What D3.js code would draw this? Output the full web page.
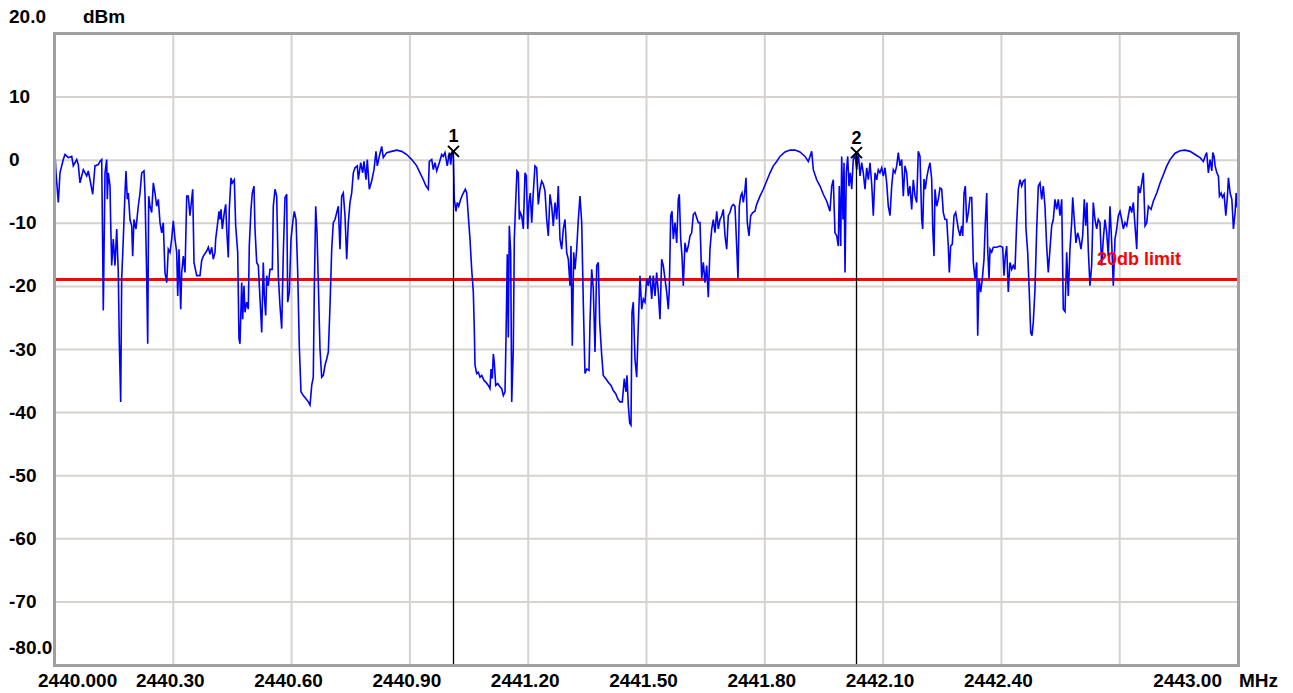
<!DOCTYPE html>
<html>
<head>
<meta charset="utf-8">
<script src="https://cdn.jsdelivr.net/npm/d3@7"></script>
<style>
  body { margin: 0; background: #fff; }
  svg text { font-family: "Liberation Sans", Arial, sans-serif; font-weight: bold; }
</style>
</head>
<body>
<div class="chart-area"></div>
<script>
// sweep: 2440.000 .. 2443.000 MHz, level in dBm
var startMHz = 2440.0,
    spanMHz = 3.0;

var yTickValues = [20, 10, 0, -10, -20, -30, -40, -50, -60, -70, -80],
    yTickLabels = ["20.0", "10", "0", "-10", "-20", "-30", "-40", "-50", "-60", "-70", "-80.0"];

var xTickValues = [2440.0, 2440.3, 2440.6, 2440.9, 2441.2, 2441.5, 2441.8, 2442.1, 2442.4, 2442.7, 2443.0],
    xTickLabels = ["2440.000", "2440.30", "2440.60", "2440.90", "2441.20", "2441.50", "2441.80", "2442.10", "2442.40", "", "2443.00"];

var limitLevel = -18.9,
    limitLabel = "20db limit";

var markerNames = ["1", "2"],
    markerOffsets = [1.0086, 2.0314],
    markerLevels = [1.4, 1.2];

// [offset from start in MHz, level dBm]
var trace = [
  [0.0000,0.9],[0.0025,-2.0],[0.0084,-6.7],[0.0127,-2.0],[0.0210,0.1],[0.0254,0.9],[0.0337,0.4],[0.0424,0.6],
  [0.0464,-0.9],[0.0550,0.1],[0.0591,-0.7],[0.0634,-3.6],[0.0718,-1.5],[0.0804,-2.5],[0.0844,-1.7],[0.0888,-3.1],
  [0.0956,-5.4],[0.1014,-0.9],[0.1098,-0.7],[0.1141,-0.2],[0.1184,0.1],[0.1210,-14.6],[0.1225,-23.8],[0.1268,-2.0],
  [0.1311,0.1],[0.1326,-6.2],[0.1352,-2.0],[0.1395,-4.1],[0.1412,-9.9],[0.1438,-16.7],[0.1478,-12.5],[0.1521,-16.7],
  [0.1565,-10.9],[0.1605,-17.8],[0.1631,-28.8],[0.1666,-38.3],[0.1691,-18.8],[0.1732,-12.5],[0.1775,-5.2],[0.1800,-1.7],
  [0.1834,-6.2],[0.1859,-5.2],[0.1902,-9.4],[0.1945,-10.4],[0.1970,-15.2],[0.2003,-9.4],[0.2054,-10.9],[0.2087,-8.8],
  [0.2112,-7.3],[0.2156,-5.2],[0.2199,-2.0],[0.2257,-1.7],[0.2282,-5.2],[0.2325,-18.3],[0.2351,-29.1],[0.2376,-5.7],
  [0.2409,-7.3],[0.2452,-8.3],[0.2493,-3.6],[0.2536,-5.2],[0.2579,-7.3],[0.2620,-6.2],[0.2663,-9.9],[0.2706,-11.5],
  [0.2746,-9.9],[0.2789,-17.8],[0.2833,-19.4],[0.2873,-14.1],[0.2916,-14.6],[0.2959,-12.5],[0.3000,-9.6],[0.3043,-12.5],
  [0.3086,-14.6],[0.3112,-21.5],[0.3145,-14.1],[0.3188,-23.6],[0.3213,-17.8],[0.3254,-15.2],[0.3297,-17.8],[0.3340,-5.7],
  [0.3380,-5.7],[0.3423,-8.8],[0.3492,-4.6],[0.3525,-16.2],[0.3593,-18.3],[0.3677,-18.3],[0.3720,-15.9],[0.3761,-15.2],
  [0.3847,-14.4],[0.3888,-13.8],[0.3931,-14.9],[0.3974,-13.8],[0.4014,-15.7],[0.4057,-14.6],[0.4075,-12.5],[0.4126,-9.9],
  [0.4159,-8.1],[0.4184,-9.4],[0.4210,-7.8],[0.4243,-10.9],[0.4293,-8.3],[0.4329,-7.0],[0.4354,-10.9],[0.4395,-15.4],
  [0.4420,-7.8],[0.4463,-2.8],[0.4496,-3.6],[0.4547,-3.1],[0.4582,-10.4],[0.4633,-14.6],[0.4666,-28.3],[0.4691,-29.1],
  [0.4735,-19.4],[0.4760,-25.2],[0.4793,-19.9],[0.4818,-24.1],[0.4861,-22.5],[0.4902,-23.6],[0.4927,-13.6],[0.4970,-7.8],
  [0.5003,-5.2],[0.5046,-4.1],[0.5072,-10.9],[0.5115,-16.2],[0.5156,-16.7],[0.5199,-22.0],[0.5242,-27.3],[0.5282,-16.2],
  [0.5308,-21.5],[0.5343,-24.6],[0.5369,-18.3],[0.5409,-19.9],[0.5452,-17.3],[0.5511,-17.3],[0.5536,-7.3],[0.5579,-4.6],
  [0.5622,-5.7],[0.5663,-18.3],[0.5706,-23.1],[0.5749,-26.7],[0.5790,-14.6],[0.5833,-5.9],[0.5876,-5.4],[0.5901,-22.5],
  [0.5942,-20.9],[0.5985,-12.5],[0.6028,-9.9],[0.6069,-8.1],[0.6112,-9.4],[0.6155,-17.8],[0.6195,-29.4],[0.6238,-36.7],
  [0.6297,-37.3],[0.6365,-37.8],[0.6424,-38.3],[0.6467,-38.8],[0.6510,-35.7],[0.6550,-34.4],[0.6576,-20.4],[0.6611,-7.3],
  [0.6644,-11.5],[0.6677,-19.4],[0.6720,-29.9],[0.6763,-34.4],[0.6804,-34.1],[0.6847,-32.5],[0.6890,-31.5],[0.6931,-30.4],
  [0.6974,-23.1],[0.7017,-14.1],[0.7057,-9.9],[0.7101,-9.4],[0.7144,-8.3],[0.7184,-7.3],[0.7227,-14.1],[0.7270,-5.7],
  [0.7311,-5.2],[0.7354,-8.8],[0.7397,-15.7],[0.7438,-9.9],[0.7481,-6.7],[0.7524,-5.2],[0.7565,-2.0],[0.7608,-1.2],
  [0.7666,-0.9],[0.7692,-3.1],[0.7752,-0.4],[0.7803,-2.0],[0.7836,-0.2],[0.7887,-3.1],[0.7920,0.1],[0.7970,-4.6],
  [0.8031,-3.3],[0.8090,-1.5],[0.8140,1.4],[0.8173,-0.9],[0.8224,0.6],[0.8285,2.2],[0.8325,0.4],[0.8412,1.2],
  [0.8538,1.4],[0.8665,1.6],[0.8792,1.4],[0.8919,0.9],[0.9046,0.1],[0.9172,-0.9],[0.9256,-2.0],[0.9340,-3.1],
  [0.9408,-4.1],[0.9467,-4.6],[0.9492,-0.2],[0.9553,0.1],[0.9593,-1.5],[0.9636,-0.4],[0.9680,-1.7],[0.9746,-0.4],
  [0.9806,0.9],[0.9847,0.6],[0.9890,1.2],[0.9948,-0.9],[0.9999,1.2],[1.0035,-0.7],[1.0068,1.4],[1.0101,0.6],
  [1.0126,-6.2],[1.0169,-8.1],[1.0202,-6.7],[1.0238,-7.3],[1.0288,-6.2],[1.0339,-5.4],[1.0405,-4.6],[1.0441,-5.2],
  [1.0481,-8.8],[1.0524,-12.5],[1.0567,-17.3],[1.0608,-20.9],[1.0633,-26.7],[1.0651,-32.5],[1.0694,-33.8],[1.0735,-33.6],
  [1.0778,-34.4],[1.0821,-34.1],[1.0879,-34.9],[1.0930,-35.2],[1.0988,-35.7],[1.1031,-36.2],[1.1057,-33.1],[1.1090,-34.6],
  [1.1115,-30.7],[1.1140,-32.0],[1.1176,-35.7],[1.1227,-35.4],[1.1285,-35.9],[1.1328,-36.2],[1.1369,-37.3],[1.1412,-36.7],
  [1.1437,-28.3],[1.1470,-14.9],[1.1495,-28.1],[1.1521,-10.4],[1.1556,-14.6],[1.1582,-38.3],[1.1622,-29.9],[1.1648,-12.5],
  [1.1683,-6.5],[1.1716,-1.7],[1.1749,-2.0],[1.1775,-9.4],[1.1800,-8.3],[1.1835,-8.8],[1.1876,-10.9],[1.1919,-2.0],
  [1.1952,-2.5],[1.1988,-10.9],[1.2020,-6.7],[1.2053,-5.2],[1.2089,-9.9],[1.2129,-5.2],[1.2172,-0.9],[1.2215,-1.2],
  [1.2256,-7.0],[1.2299,-4.6],[1.2342,-3.3],[1.2383,-3.8],[1.2426,-4.9],[1.2469,-9.4],[1.2510,-12.0],[1.2553,-5.4],
  [1.2596,-7.3],[1.2636,-10.4],[1.2680,-6.7],[1.2723,-9.4],[1.2763,-4.1],[1.2806,-12.5],[1.2849,-14.1],[1.2890,-10.9],
  [1.2933,-9.4],[1.2976,-14.6],[1.3017,-15.7],[1.3060,-19.9],[1.3085,-13.6],[1.3118,-29.4],[1.3154,-14.6],[1.3187,-17.3],
  [1.3230,-14.1],[1.3271,-9.4],[1.3313,-5.7],[1.3357,-9.9],[1.3397,-22.5],[1.3440,-33.8],[1.3484,-33.1],[1.3542,-33.3],
  [1.3567,-25.7],[1.3610,-17.3],[1.3651,-20.4],[1.3694,-30.4],[1.3737,-16.7],[1.3778,-16.2],[1.3813,-25.7],[1.3864,-30.9],
  [1.3904,-34.1],[1.3965,-34.6],[1.4031,-35.2],[1.4100,-35.7],[1.4158,-36.5],[1.4219,-37.0],[1.4270,-37.8],[1.4328,-38.3],
  [1.4386,-38.3],[1.4437,-34.6],[1.4480,-36.7],[1.4505,-34.1],[1.4538,-38.8],[1.4574,-41.7],[1.4607,-42.0],[1.4632,-24.1],
  [1.4665,-22.5],[1.4708,-31.5],[1.4751,-34.4],[1.4792,-26.2],[1.4835,-18.3],[1.4878,-23.6],[1.4919,-22.0],[1.4962,-22.5],
  [1.5005,-18.8],[1.5045,-19.9],[1.5089,-18.3],[1.5132,-22.0],[1.5172,-18.3],[1.5215,-21.5],[1.5258,-17.8],[1.5299,-20.9],
  [1.5342,-25.2],[1.5385,-15.7],[1.5426,-16.7],[1.5469,-18.8],[1.5512,-20.9],[1.5553,-23.6],[1.5578,-20.4],[1.5614,-8.8],
  [1.5647,-8.1],[1.5680,-12.5],[1.5723,-9.9],[1.5766,-13.1],[1.5806,-6.2],[1.5832,-5.4],[1.5867,-12.5],[1.5900,-15.2],
  [1.5933,-19.9],[1.5976,-13.1],[1.6019,-14.6],[1.6060,-13.6],[1.6103,-12.0],[1.6146,-11.5],[1.6187,-8.6],[1.6230,-8.3],
  [1.6273,-9.1],[1.6314,-9.9],[1.6357,-9.9],[1.6400,-18.8],[1.6441,-16.2],[1.6484,-19.4],[1.6527,-16.7],[1.6567,-21.7],
  [1.6610,-14.1],[1.6654,-10.9],[1.6694,-9.4],[1.6737,-11.5],[1.6780,-8.1],[1.6821,-10.9],[1.6864,-9.4],[1.6907,-8.8],
  [1.6948,-7.8],[1.6991,-12.0],[1.7034,-14.1],[1.7074,-8.8],[1.7117,-8.3],[1.7160,-7.3],[1.7201,-7.0],[1.7244,-7.3],
  [1.7287,-13.6],[1.7320,-18.8],[1.7353,-7.3],[1.7389,-5.7],[1.7422,-5.2],[1.7455,-6.7],[1.7490,-5.2],[1.7523,-2.8],
  [1.7556,-9.9],[1.7599,-12.0],[1.7642,-8.8],[1.7693,-8.3],[1.7751,-8.1],[1.7794,-7.0],[1.7878,-5.7],[1.7962,-4.6],
  [1.8048,-3.3],[1.8132,-2.0],[1.8216,-0.9],[1.8302,-0.2],[1.8385,0.6],[1.8512,1.3],[1.8639,1.6],[1.8766,1.6],
  [1.8892,1.3],[1.9019,0.6],[1.9103,-0.2],[1.9146,0.6],[1.9189,1.4],[1.9230,-1.5],[1.9316,-3.1],[1.9400,-4.1],
  [1.9483,-5.4],[1.9570,-6.5],[1.9653,-8.1],[1.9697,-4.1],[1.9737,-3.1],[1.9780,-11.5],[1.9823,-12.0],[1.9864,-13.6],
  [1.9889,-4.1],[1.9925,-13.6],[1.9950,0.6],[1.9983,-9.4],[2.0009,-0.4],[2.0034,-17.8],[2.0067,-2.0],[2.0102,0.6],
  [2.0135,-4.1],[2.0168,-2.0],[2.0204,-4.6],[2.0244,0.1],[2.0287,0.9],[2.0331,-1.5],[2.0371,1.2],[2.0414,-2.5],
  [2.0457,-0.4],[2.0498,-2.0],[2.0541,-4.6],[2.0584,-1.2],[2.0625,-3.1],[2.0668,-0.4],[2.0711,-3.8],[2.0752,-8.8],
  [2.0795,-2.0],[2.0838,-3.1],[2.0878,-1.5],[2.0921,-2.0],[2.0965,-1.2],[2.1005,-2.5],[2.1048,-1.2],[2.1091,-3.6],
  [2.1132,-7.3],[2.1175,-8.8],[2.1218,-4.1],[2.1259,-1.5],[2.1302,-2.0],[2.1345,-0.9],[2.1385,1.2],[2.1428,-0.9],
  [2.1471,0.1],[2.1512,-5.7],[2.1555,-0.9],[2.1598,-2.0],[2.1639,-5.7],[2.1682,-4.1],[2.1725,-7.8],[2.1766,-3.1],
  [2.1809,-5.7],[2.1852,-6.7],[2.1892,1.4],[2.1936,0.6],[2.1979,-9.4],[2.2004,-10.9],[2.2037,-3.0],[2.2070,-4.6],
  [2.2106,-2.8],[2.2146,-1.5],[2.2189,-0.4],[2.2232,-3.0],[2.2258,-10.6],[2.2291,-15.2],[2.2316,-4.6],[2.2359,-7.3],
  [2.2400,-6.2],[2.2443,-4.4],[2.2486,-4.6],[2.2527,-8.3],[2.2570,-9.4],[2.2613,-9.4],[2.2653,-13.6],[2.2679,-17.8],
  [2.2714,-13.6],[2.2755,-13.3],[2.2798,-8.8],[2.2841,-8.3],[2.2882,-9.9],[2.2907,-10.9],[2.2950,-12.0],[2.2993,-10.4],
  [2.3019,-12.0],[2.3052,-5.2],[2.3085,-4.1],[2.3120,-9.9],[2.3161,-8.3],[2.3204,-5.9],[2.3247,-5.9],[2.3288,-16.2],
  [2.3331,-18.8],[2.3374,-16.2],[2.3399,-27.8],[2.3432,-18.8],[2.3475,-20.9],[2.3516,-18.8],[2.3559,-15.7],[2.3592,-9.9],
  [2.3628,-5.2],[2.3653,-14.1],[2.3686,-18.8],[2.3711,-14.1],[2.3754,-14.6],[2.3795,-13.8],[2.3881,-13.8],[2.3964,-13.6],
  [2.4033,-13.8],[2.4066,-18.3],[2.4099,-15.2],[2.4134,-13.6],[2.4175,-20.9],[2.4218,-16.2],[2.4261,-17.3],[2.4302,-16.7],
  [2.4345,-17.3],[2.4388,-9.9],[2.4429,-4.6],[2.4472,-3.1],[2.4515,-4.1],[2.4555,-3.3],[2.4598,-3.1],[2.4624,-10.9],
  [2.4667,-14.6],[2.4707,-20.9],[2.4743,-27.3],[2.4776,-27.8],[2.4809,-25.7],[2.4852,-20.4],[2.4895,-10.9],[2.4936,-4.1],
  [2.4979,-3.6],[2.5022,-6.2],[2.5062,-4.1],[2.5105,-7.3],[2.5148,-13.6],[2.5189,-17.8],[2.5232,-14.1],[2.5275,-10.4],
  [2.5316,-9.4],[2.5359,-6.2],[2.5402,-7.8],[2.5443,-6.2],[2.5486,-8.8],[2.5529,-6.2],[2.5569,-23.6],[2.5613,-24.0],
  [2.5656,-14.6],[2.5696,-21.5],[2.5739,-14.1],[2.5782,-9.9],[2.5808,-5.9],[2.5848,-9.4],[2.5891,-13.1],[2.5934,-11.5],
  [2.5975,-12.5],[2.6018,-14.1],[2.6061,-12.0],[2.6102,-6.2],[2.6137,-10.4],[2.6170,-6.7],[2.6203,-14.1],[2.6246,-19.9],
  [2.6289,-16.7],[2.6330,-6.7],[2.6373,-9.4],[2.6416,-10.9],[2.6457,-9.4],[2.6500,-9.9],[2.6543,-16.7],[2.6584,-12.5],
  [2.6627,-9.4],[2.6670,-11.5],[2.6711,-15.2],[2.6754,-7.3],[2.6797,-13.1],[2.6838,-19.9],[2.6881,-12.5],[2.6924,-10.9],
  [2.6965,-8.8],[2.7008,-8.1],[2.7051,-9.4],[2.7092,-10.9],[2.7135,-9.9],[2.7178,-10.4],[2.7219,-8.8],[2.7262,-7.3],
  [2.7305,-8.3],[2.7346,-6.7],[2.7389,-10.4],[2.7432,-14.1],[2.7473,-4.1],[2.7516,-5.2],[2.7559,-3.6],[2.7600,-2.0],
  [2.7643,-10.4],[2.7686,-9.9],[2.7727,-7.3],[2.7795,-7.8],[2.7853,-6.5],[2.7940,-5.2],[2.8024,-3.6],[2.8107,-2.3],
  [2.8194,-0.9],[2.8277,0.1],[2.8404,1.1],[2.8531,1.5],[2.8658,1.6],[2.8785,1.4],[2.8911,0.9],[2.9038,0.4],
  [2.9122,-0.2],[2.9163,0.6],[2.9206,1.2],[2.9249,-2.0],[2.9293,0.1],[2.9336,-1.7],[2.9361,1.2],[2.9394,0.6],
  [2.9420,-0.9],[2.9463,-2.0],[2.9503,-2.5],[2.9529,-5.7],[2.9572,-5.2],[2.9605,-5.9],[2.9648,-5.4],[2.9691,-8.8],
  [2.9732,-5.7],[2.9757,-2.8],[2.9801,-5.2],[2.9844,-6.2],[2.9884,-10.9],[2.9927,-8.3],[2.9953,-5.2],[2.9978,-7.5]
];

var width = 1293,
    height = 693,
    plotLeft = 55,
    plotRight = 1238,
    plotTop = 34,
    plotBottom = 665;

var x = d3.scaleLinear().domain([startMHz, startMHz + spanMHz]).range([plotLeft, plotRight]),
    y = d3.scaleLinear().domain([-80, 20]).range([plotBottom, plotTop]);

var svg = d3.select(".chart-area")
            .append("svg")
            .attr("width", width)
            .attr("height", height);

svg.append("defs").append("clipPath")
   .attr("id", "plot-clip")
   .append("rect")
   .attr("x", plotLeft)
   .attr("y", plotTop)
   .attr("width", plotRight - plotLeft)
   .attr("height", plotBottom - plotTop);

// grid
svg.selectAll(".hgrid")
   .data(yTickValues.slice(1, -1))
   .enter()
   .append("line")
   .attr("class", "hgrid")
   .attr("x1", plotLeft)
   .attr("x2", plotRight)
   .attr("y1", function(d) { return y(d) })
   .attr("y2", function(d) { return y(d) })
   .attr("stroke", "#d6d3ce")
   .attr("stroke-width", 2);

svg.selectAll(".vgrid")
   .data(xTickValues.slice(1, -1))
   .enter()
   .append("line")
   .attr("class", "vgrid")
   .attr("x1", function(d) { return x(d) })
   .attr("x2", function(d) { return x(d) })
   .attr("y1", plotTop)
   .attr("y2", plotBottom)
   .attr("stroke", "#d6d3ce")
   .attr("stroke-width", 2);

// limit line
svg.append("line")
   .attr("x1", plotLeft)
   .attr("x2", plotRight)
   .attr("y1", y(limitLevel))
   .attr("y2", y(limitLevel))
   .attr("stroke", "#ff0000")
   .attr("stroke-width", 3);

// trace
var line = d3.line()
             .x(function(d) { return x(startMHz + d[0]) })
             .y(function(d) { return y(d[1]) });

svg.append("path")
   .datum(trace)
   .attr("clip-path", "url(#plot-clip)")
   .attr("d", line)
   .attr("fill", "none")
   .attr("stroke", "#0000ff")
   .attr("stroke-width", 1.6)
   .attr("stroke-linejoin", "miter");

// markers
var markers = markerNames.map(function(n, i) {
  return { name: n, f: startMHz + markerOffsets[i], level: markerLevels[i] };
});

svg.selectAll(".mline")
   .data(markers)
   .enter()
   .append("line")
   .attr("class", "mline")
   .attr("x1", function(d) { return Math.round(x(d.f)) + 0.5 })
   .attr("x2", function(d) { return Math.round(x(d.f)) + 0.5 })
   .attr("y1", function(d) { return y(d.level) })
   .attr("y2", plotBottom)
   .attr("stroke", "#000")
   .attr("stroke-width", 1.3);

var cross = svg.selectAll(".mcross")
   .data(markers)
   .enter()
   .append("g")
   .attr("class", "mcross")
   .attr("transform", function(d) { return "translate(" + (Math.round(x(d.f)) + 0.5) + "," + y(d.level) + ")" });

cross.append("path")
     .attr("d", "M-5.5,-5.5L5.5,5.5M-5.5,5.5L5.5,-5.5")
     .attr("stroke", "#000")
     .attr("stroke-width", 2)
     .attr("fill", "none");

cross.append("text")
     .attr("x", 0)
     .attr("y", -9)
     .attr("text-anchor", "middle")
     .attr("font-size", "18px")
     .attr("font-weight", "normal")
     .text(function(d) { return d.name });

svg.append("text")
   .attr("x", 1097)
   .attr("y", y(limitLevel) - 14)
   .attr("fill", "#ff0000")
   .attr("font-size", "18px")
   .text(limitLabel);

// frame
svg.append("rect")
   .attr("x", plotLeft - 0.5)
   .attr("y", plotTop - 0.5)
   .attr("width", plotRight - plotLeft + 1)
   .attr("height", plotBottom - plotTop + 1)
   .attr("fill", "none")
   .attr("stroke", "#a0a0a0")
   .attr("stroke-width", 3);

// y labels (end labels sit above their line)
svg.selectAll(".ylabel")
   .data(yTickValues)
   .enter()
   .append("text")
   .attr("class", "ylabel")
   .attr("x", 9)
   .attr("y", function(d, i) {
     if (i == 0 || i == yTickValues.length - 1) return y(d) - 11;
     return y(d) + 6;
   })
   .attr("font-size", "19px")
   .text(function(d, i) { return yTickLabels[i] });

svg.append("text")
   .attr("x", 83)
   .attr("y", 23)
   .attr("font-size", "19px")
   .text("dBm");

// x labels
svg.selectAll(".xlabel")
   .data(xTickValues)
   .enter()
   .append("text")
   .attr("class", "xlabel")
   .attr("x", function(d, i) {
     if (i == 0) return x(d) - 17;
     if (i == xTickValues.length - 1) return x(d) - 16;
     return x(d) - 3;
   })
   .attr("y", 687)
   .attr("text-anchor", function(d, i) {
     if (i == 0) return "start";
     if (i == xTickValues.length - 1) return "end";
     return "middle";
   })
   .attr("font-size", "19px")
   .text(function(d, i) { return xTickLabels[i] });

svg.append("text")
   .attr("x", plotRight + 1)
   .attr("y", 687)
   .attr("font-size", "19px")
   .text("MHz");
</script>
</body>
</html>
